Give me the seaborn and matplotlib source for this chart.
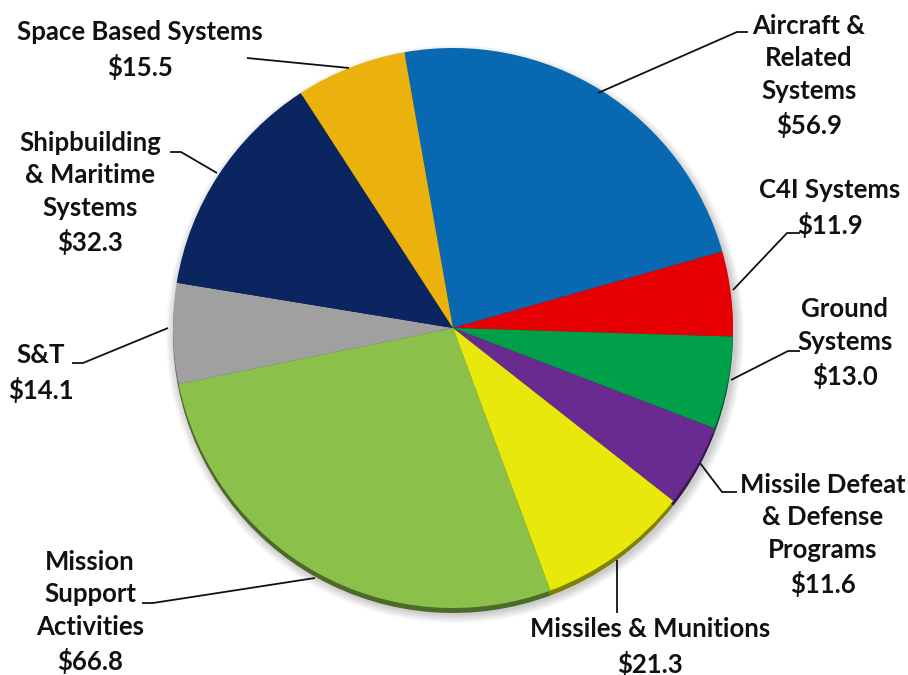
import matplotlib
matplotlib.use("Agg")
import matplotlib.pyplot as plt
import seaborn as sns
import numpy as np
from matplotlib.patches import Circle

# Budget by portfolio ($B)
categories = [
    "Aircraft &\nRelated\nSystems",
    "C4I Systems",
    "Ground\nSystems",
    "Missile Defeat\n& Defense\nPrograms",
    "Missiles & Munitions",
    "Mission\nSupport\nActivities",
    "S&T",
    "Shipbuilding\n& Maritime\nSystems",
    "Space Based Systems",
]
values = [56.9, 11.9, 13.0, 11.6, 21.3, 66.8, 14.1, 32.3, 15.5]
hex_colors = ["#0868B1", "#E60004", "#00A04B", "#6A2B91", "#E8E80A",
              "#8BC14A", "#A0A0A0", "#0B2561", "#EBB10C"]

sns.set_theme(style="white")
plt.rcParams["font.family"] = ["Lato", "DejaVu Sans"]
palette = sns.color_palette(hex_colors)

W, H = 908, 675
fig = plt.figure(figsize=(W / 100, H / 100), dpi=100)
ax = fig.add_axes([0, 0, 1, 1])


def Y(y):
    # pixel row (from top) -> axes y
    return H - y


cx, cy, r = 453, 328, 280
start = 100

# soft drop shadow
for i in range(10):
    ax.add_patch(Circle((cx + 2, Y(cy + 6)), r + 1 + i * 0.9,
                        color="black", alpha=0.018, lw=0, zorder=1))

# darker side rim under the face
dark = [tuple(np.array(c) * 0.55) for c in palette]
ax.pie(values, colors=dark, startangle=start, counterclock=False,
       center=(cx, Y(cy + 5)), radius=r,
       wedgeprops=dict(linewidth=0), frame=True)

# main face
ax.pie(values, colors=palette, startangle=start, counterclock=False,
       center=(cx, Y(cy)), radius=r,
       wedgeprops=dict(linewidth=0), frame=True)

ax.set_xlim(0, W)
ax.set_ylim(0, H)
ax.set_aspect("equal")
ax.axis("off")

# label anchor (centre of text block) and leader line points, pixel coords
label_pos = [(809, 76), (830, 208), (845, 343), (823, 535), (650, 647),
             (90, 612), (41, 373), (90, 193), (140, 50)]
leaders = [
    [(748, 32), (737, 32), (598, 93)],
    [(800, 233), (787, 233), (733, 290)],
    [(800, 351), (788, 351), (731, 380)],
    [(737, 492), (722, 492), (700, 463)],
    [(617, 613), (617, 560)],
    [(142, 603), (153, 603), (315, 578)],
    [(72, 363), (83, 363), (168, 328)],
    [(170, 152), (181, 152), (217, 173)],
    [(247, 58), (349, 68)],
]

for name, val, (lx, ly), pts in zip(categories, values, label_pos, leaders):
    ax.text(lx, Y(ly), f"{name}\n${val:.1f}", ha="center", va="center",
            fontsize=18.5, fontweight="bold", color="#111111",
            linespacing=1.42, zorder=5)
    xs = [p[0] for p in pts]
    ys = [Y(p[1]) for p in pts]
    ax.plot(xs, ys, color="#111111", lw=1.3, zorder=4,
            solid_capstyle="butt")

fig.savefig("out.png", dpi=100, facecolor="white")
